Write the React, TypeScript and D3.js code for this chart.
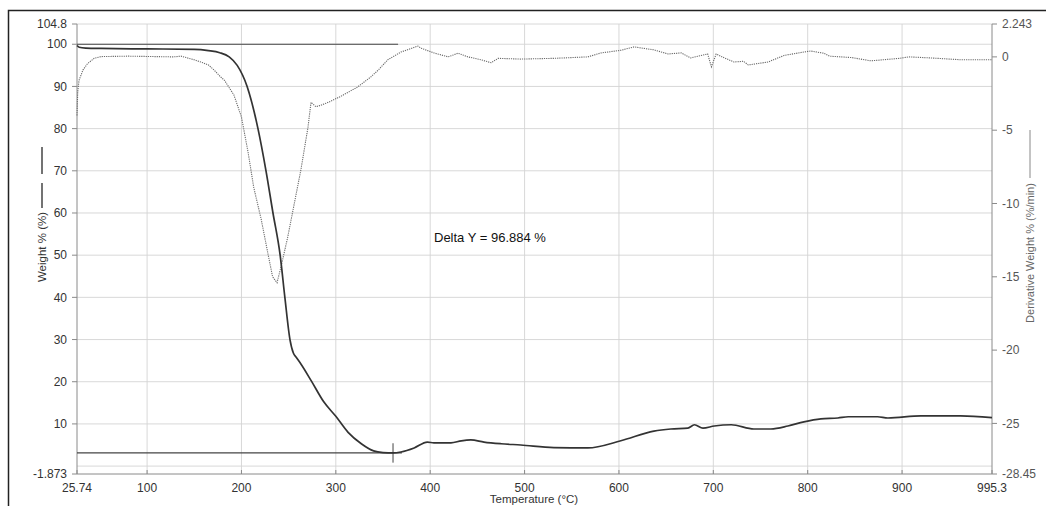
import React from 'react';
import * as d3 from 'd3';

// weight % curve (solid)
const weightTemp = [25.74, 28, 35, 51, 100, 150, 165, 177, 187, 195.5, 206, 217.5, 226, 233.4, 241, 246, 251.4, 255, 258, 263, 274, 287, 300, 313, 327, 340, 350, 361, 369, 383, 397, 404, 422, 433, 443, 457, 475, 496, 531, 567, 602, 637, 655, 673, 680, 689, 701, 719, 743, 761, 779, 796, 814, 832, 843, 874, 885, 920, 962, 995.3];
const weightPct = [99.7, 99.3, 99.1, 99.0, 98.9, 98.8, 98.5, 98.0, 97.0, 95.0, 90, 80, 70, 60, 50, 40, 30, 26.8, 25.8, 24.2, 20.2, 15.3, 11.8, 8.0, 5.3, 3.6, 3.2, 3.12, 3.35, 4.3, 5.7, 5.5, 5.5, 6.0, 6.2, 5.7, 5.3, 5.0, 4.4, 4.3, 6.0, 8.3, 8.8, 9.0, 9.8, 9.0, 9.5, 9.8, 8.8, 8.8, 9.5, 10.5, 11.2, 11.4, 11.7, 11.7, 11.4, 11.9, 11.9, 11.5];

// derivative weight curve (dotted)
const derivTemp = [25.74, 26.5, 27.9, 32, 37, 44, 51, 80, 128, 136, 150, 157, 165, 171, 178, 182, 192, 200, 207, 213, 221, 228, 233, 237.7, 242, 249, 256, 263, 270.5, 273.7, 279, 284, 292, 305, 323, 337, 345, 355, 369, 387, 390, 404, 419, 429.5, 440, 454, 464.5, 472, 496, 531, 567, 581, 602, 616, 637, 652, 666, 676, 687, 694, 698, 703, 711, 722, 732, 737, 758, 775, 793, 803, 817, 823, 847, 867, 897, 907, 930, 963, 995.3];
const derivVal = [-4.0, -2.4, -1.6, -0.9, -0.45, -0.1, 0.02, 0.05, 0.0, 0.05, -0.2, -0.35, -0.55, -0.9, -1.37, -1.6, -2.6, -4.1, -6.5, -8.9, -11.1, -13.4, -15.0, -15.4, -14.3, -12.3, -10.0, -7.7, -4.8, -3.1, -3.4, -3.3, -3.1, -2.7, -2.06, -1.37, -0.9, -0.2, 0.33, 0.74, 0.6, 0.27, 0.0, 0.25, 0.0, -0.2, -0.4, -0.1, -0.15, -0.1, 0.0, 0.27, 0.45, 0.68, 0.48, 0.2, 0.27, -0.07, 0.1, 0.2, -0.68, 0.2, -0.05, -0.35, -0.3, -0.55, -0.35, 0.1, 0.3, 0.4, 0.25, 0.05, -0.05, -0.27, -0.1, 0.0, -0.07, -0.2, -0.2];

const xTicks = [100, 200, 300, 400, 500, 600, 700, 800, 900];
const xEnds = [25.74, 995.3];
const leftTicks = [100, 90, 80, 70, 60, 50, 40, 30, 20, 10];
const leftGrid = [104.8, 100, 90, 80, 70, 60, 50, 40, 30, 20, 10, 0];
const leftEnds = [104.8, -1.873];
const rightTicks = [0, -5, -10, -15, -20, -25];
const rightEnds = [2.243, -28.45];

// delta Y annotation
const deltaTop = 100;
const deltaBottom = 3.116;
const deltaEndTemp = 366;
const markerTemp = 360.6;
const deltaLabel = 'Delta Y = 96.884 %';

const W = 1046;
const H = 506;
const m = { left: 77, right: 992, top: 24, bottom: 474 };
const font = '"Liberation Sans", Arial, sans-serif';

export default function App() {
  const x = d3.scaleLinear().domain([25.74, 995.3]).range([m.left, m.right]);
  const yL = d3.scaleLinear().domain([-1.873, 104.8]).range([m.bottom, m.top]);
  const yR = d3.scaleLinear().domain([-28.45, 2.243]).range([m.bottom, m.top]);

  const weightLine = d3.line<number>()
    .x((_, i) => x(weightTemp[i]))
    .y((d) => yL(d))
    .curve(d3.curveMonotoneX);
  const derivLine = d3.line<number>()
    .x((_, i) => x(derivTemp[i]))
    .y((d) => yR(d));

  return (
    <svg width={W} height={H} style={{ position: 'absolute', left: 0, top: 0, background: '#fff' }}>
      <rect x={0} y={0} width={W} height={H} fill="#fff" />
      {/* outer frame */}
      <path d={`M8.5,${H + 2}V10.5H${W + 2}`} fill="none" stroke="#222" strokeWidth={1.5} />

      {/* grid */}
      <g stroke="#d4d4d4" strokeWidth={0.9}>
        {leftGrid.map((v) => (
          <line key={'h' + v} x1={m.left} x2={m.right} y1={yL(v)} y2={yL(v)} />
        ))}
        {xTicks.map((v) => (
          <line key={'v' + v} x1={x(v)} x2={x(v)} y1={m.top} y2={m.bottom} />
        ))}
      </g>

      {/* axes */}
      <g stroke="#8a8a8a" strokeWidth={1}>
        <line x1={m.left} x2={m.left} y1={m.top} y2={m.bottom} />
        <line x1={m.right} x2={m.right} y1={m.top} y2={m.bottom} />
        <line x1={m.left} x2={m.right} y1={m.bottom} y2={m.bottom} />
        {[...leftEnds, ...leftTicks].map((v) => (
          <line key={'lt' + v} x1={m.left - 5} x2={m.left} y1={yL(v)} y2={yL(v)} />
        ))}
        {[...rightEnds, ...rightTicks].map((v) => (
          <line key={'rt' + v} x1={m.right} x2={m.right + 5} y1={yR(v)} y2={yR(v)} />
        ))}
        {[...xEnds, ...xTicks].map((v) => (
          <line key={'bt' + v} x1={x(v)} x2={x(v)} y1={m.bottom - 4} y2={m.bottom} />
        ))}
      </g>

      {/* tick labels */}
      <g fontFamily={font} fontSize={12} fill="#333">
        {[...leftEnds, ...leftTicks].map((v) => (
          <text key={'ll' + v} x={m.left - 10} y={yL(v)} dy="0.35em" textAnchor="end">{v}</text>
        ))}
        {[...rightEnds, ...rightTicks].map((v) => (
          <text key={'rl' + v} x={m.right + 10} y={yR(v)} dy="0.35em" fill="#555">{v}</text>
        ))}
        {[...xEnds, ...xTicks].map((v) => (
          <text key={'bl' + v} x={x(v)} y={492} textAnchor="middle">{v}</text>
        ))}
      </g>

      {/* axis titles */}
      <text x={534} y={503} fontFamily={font} fontSize={11.5} fill="#333" textAnchor="middle">Temperature (°C)</text>
      <text transform="translate(46,247) rotate(-90)" fontFamily={font} fontSize={11.5} fill="#333" textAnchor="middle">Weight % (%)</text>
      <line x1={42} x2={42} y1={147} y2={174} stroke="#444" strokeWidth={1.5} />
      <line x1={42} x2={42} y1={183} y2={208} stroke="#444" strokeWidth={1.5} />
      <text transform="translate(1034,253) rotate(-90)" fontFamily={font} fontSize={11} fill="#666" textAnchor="middle">Derivative Weight % (%/min)</text>
      <line x1={1030} x2={1030} y1={130} y2={178} stroke="#888" strokeWidth={1} />

      {/* delta Y annotation */}
      <g stroke="#444" strokeWidth={1.2}>
        <line x1={x(25.74)} x2={x(deltaEndTemp)} y1={yL(deltaTop)} y2={yL(deltaTop)} />
        <line x1={x(25.74)} x2={x(deltaEndTemp + 4)} y1={yL(deltaBottom)} y2={yL(deltaBottom)} />
        <line x1={x(markerTemp)} x2={x(markerTemp)} y1={yL(deltaBottom + 2.3)} y2={yL(deltaBottom - 2.3)} strokeWidth={1} />
      </g>
      <text x={434} y={242} fontFamily={font} fontSize={13} fill="#111">{deltaLabel}</text>

      {/* curves */}
      <path d={derivLine(derivVal) || ''} fill="none" stroke="#6a6a6a" strokeWidth={1.1} strokeDasharray="1.2,1" />
      <path d={weightLine(weightPct) || ''} fill="none" stroke="#333" strokeWidth={1.7} />
    </svg>
  );
}
